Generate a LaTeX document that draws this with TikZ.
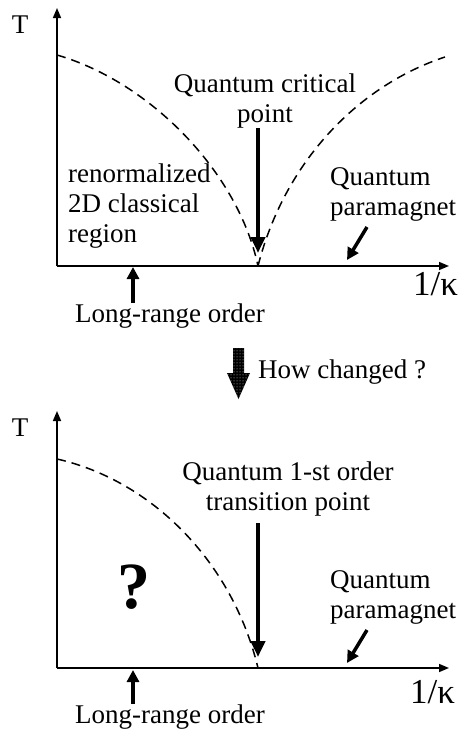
\documentclass[tikz,border=0pt]{standalone}
\usepackage{fontspec}
\setmainfont{Liberation Serif}
\usetikzlibrary{arrows.meta,patterns}

\tikzset{
  txt/.style={font=\fontsize{27}{30}\selectfont, inner sep=0pt, align=center},
  txtleft/.style={txt, align=left},
  qlabel/.style={txt, font=\fontsize{66}{70}\selectfont\bfseries},
  kappalabel/.style={txt, font=\fontsize{35}{40}\selectfont},
  axisline/.style={line width=1.6pt, -{Triangle[length=10pt,width=8pt]}},
  thickarrow/.style={line width=4pt, -{Triangle[length=16pt,width=14pt]}},
  pointer/.style={line width=3.5pt, -{Triangle[length=12pt,width=12pt]}},
  phaseline/.style={line width=1.5pt, dash pattern=on 9pt off 6pt},
}

\begin{document}
\begin{tikzpicture}[x=1pt, y=-1pt]
        \useasboundingbox (0,0) rectangle (464,732);

        % Upper diagram: quantum critical point
        \coordinate (O1) at (57,266);
        \coordinate (X1) at (449,266);
        \coordinate (Y1) at (57,8);
        \draw[axisline] (O1) -- (X1);
        \draw[axisline] (O1) -- (Y1);
        \node[txt, anchor=base] (T1) at (20,33) {T};
        \node[kappalabel, anchor=base west] (K1) at (413,295) {1/κ};
        % Crossover lines
        \draw[phaseline] (57,55)
          .. controls (150,82) and (238,172) .. (258,266);
        \draw[phaseline] (258,266)
          .. controls (285,160) and (360,85) .. (445,57);
        \node[txt, anchor=north] (qcp) at (265,73.5)
          {Quantum critical\\point};
        \coordinate (qcptip) at (258,253);
        \draw[thickarrow] (qcp.south -| qcptip) -- (qcptip);
        \node[txtleft, anchor=north west] (rc) at (68,163.5)
          {renormalized\\2D classical\\region};
        \node[txtleft, anchor=north west] (pm1) at (330,167)
          {Quantum\\paramagnet};
        \coordinate (pm1tail) at (367,227);
        \coordinate (pm1tip) at (347,260);
        \draw[pointer] (pm1tail) -- (pm1tip);
        \node[txt, anchor=base] (lro1) at (170,322) {Long-range order};
        \coordinate (lro1tip) at (133,267);
        \draw[pointer] (lro1.north -| lro1tip) -- (lro1tip);

        % How changed ?
        \fill[preaction={fill=black}, pattern=dots, pattern color=white!85!black]
          (233,348) -- (244,348) -- (244,373) -- (250,373) -- (238.5,399)
          -- (227,373) -- (233,373) -- cycle;
        \node[txt, anchor=base west] (hc) at (258,378) {How changed ?};

        % Lower diagram: 1-st order transition
        \coordinate (O2) at (57,668);
        \coordinate (X2) at (449,668);
        \coordinate (Y2) at (57,411);
        \draw[axisline] (O2) -- (X2);
        \draw[axisline] (O2) -- (Y2);
        \node[txt, anchor=base] (T2) at (20,436) {T};
        \node[kappalabel, anchor=base west] (K2) at (410,703) {1/κ};
        \draw[phaseline] (57,459)
          .. controls (150,480) and (232,560) .. (258,668);
        \node[txt, anchor=north] (qfo) at (288,461.5)
          {Quantum 1-st order\\transition point};
        \coordinate (qfotip) at (258,657);
        \draw[thickarrow, shorten <=7pt] (qfo.south -| qfotip) -- (qfotip);
        \node[qlabel, anchor=base] (qm) at (134,608) {?};
        \node[txtleft, anchor=north west] (pm2) at (330,570)
          {Quantum\\paramagnet};
        \coordinate (pm2tail) at (367,630);
        \coordinate (pm2tip) at (347,663);
        \draw[pointer] (pm2tail) -- (pm2tip);
        \node[txt, anchor=base] (lro2) at (170,723) {Long-range order};
        \coordinate (lro2tip) at (133,670);
        \draw[pointer] (lro2.north -| lro2tip) -- (lro2tip);
\end{tikzpicture}
\end{document}
